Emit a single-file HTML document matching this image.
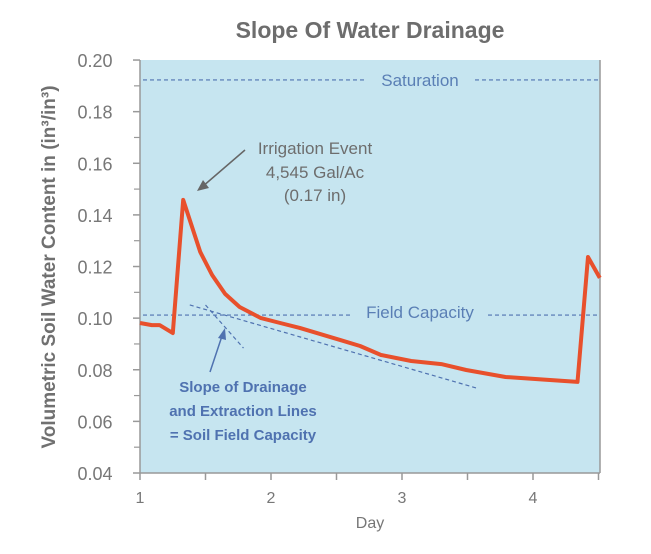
<!DOCTYPE html>
<html><head><meta charset="utf-8"><style>
body{margin:0;background:#fff;width:651px;height:549px;overflow:hidden;font-family:"Liberation Sans",sans-serif}
</style></head><body>
<svg id="chart" width="651" height="549">
<text x="370" y="38" text-anchor="middle" font-size="23" font-weight="bold" fill="#6d6d6d">Slope Of Water Drainage</text>
<rect x="140" y="60" width="460" height="413" fill="#c6e5f0"/>
<g id="axes"></g>
<g id="marks"></g>
<text transform="translate(55,267) rotate(-90)" text-anchor="middle" font-size="19" font-weight="bold" fill="#707070">Volumetric Soil Water Content in (in³/in³)</text>
<text x="370" y="528" text-anchor="middle" font-size="16" fill="#777">Day</text>
<text x="420" y="86" text-anchor="middle" font-size="17" fill="#5a7fb5">Saturation</text>
<text x="420" y="318" text-anchor="middle" font-size="17" fill="#5a7fb5">Field Capacity</text>
<g font-size="17" fill="#6d6d6d" text-anchor="middle">
<text x="315" y="154">Irrigation Event</text><text x="315" y="178">4,545 Gal/Ac</text><text x="315" y="201">(0.17 in)</text></g>
<line x1="245" y1="150" x2="202" y2="187" stroke="#666" stroke-width="1.5"/>
<polygon points="197,191 203,180 209,188" fill="#666"/>
<g font-size="15" font-weight="bold" fill="#4f72b0" text-anchor="middle">
<text x="243" y="392">Slope of Drainage</text><text x="243" y="416">and Extraction Lines</text><text x="243" y="440">= Soil Field Capacity</text></g>
<line x1="210" y1="372" x2="222" y2="336" stroke="#4f72b0" stroke-width="1.5"/>
<polygon points="225,328 218,338 226,340" fill="#4f72b0"/>
</svg>
<script>
const days=[1,1.09,1.15,1.25,1.33,1.46,1.55,1.65,1.76,1.92,2.07,2.22,2.53,2.68,2.84,3.07,3.3,3.49,3.79,4.34,4.42,4.51];
const moisture=[0.0981,0.0973,0.0973,0.0942,0.1458,0.1256,0.1167,0.1094,0.1043,0.1001,0.0981,0.0962,0.0915,0.0892,0.0857,0.0834,0.0822,0.0799,0.0772,0.0753,0.1237,0.1156];
const yTicks=[0.04,0.06,0.08,0.10,0.12,0.14,0.16,0.18,0.20];
const xTicks=[1,2,3,4];
const saturation=0.1923, fieldCapacity=0.1012;
const extractionLine=[[1.38,0.1051],[3.57,0.0729]];
const drainageLine=[[1.5,0.1051],[1.79,0.0884]];
const X=d=>140+(d-1)*131, Y=v=>473-(v-0.04)*2581;
const NS="http://www.w3.org/2000/svg";
function mk(tag,attrs,parent){const e=document.createElementNS(NS,tag);for(const k in attrs)e.setAttribute(k,attrs[k]);parent.appendChild(e);return e;}
const ax=document.getElementById('axes'), mk2=document.getElementById('marks');
let e=mk('line',{x1:140,y1:60,x2:140,y2:473,stroke:'#999','stroke-width':1.5},ax);

e=mk('line',{x1:140,y1:473,x2:600,y2:473,stroke:'#999','stroke-width':1.5},ax);

e=mk('line',{x1:600,y1:60,x2:600,y2:473,stroke:'#999','stroke-width':1.5},ax);

yTicks.forEach((v,i)=>{
  const t=mk('text',{x:95,y:Y(v)+7,'text-anchor':'middle','font-size':18,fill:'#777'},ax);t.textContent=v.toFixed(2);
  
  const l=mk('line',{x1:133,y1:Y(v),x2:140,y2:Y(v),stroke:'#999','stroke-width':1.5},ax);
  
  if(i<yTicks.length-1){const m=mk('line',{x1:134,y1:Y(v+0.01),x2:140,y2:Y(v+0.01),stroke:'#999','stroke-width':1.2},ax);
  }
});
[1,1.5,2,2.5,3,3.5,4,4.5].forEach(d=>{const l=mk('line',{x1:X(d),y1:473,x2:X(d),y2:480,stroke:'#999','stroke-width':1.5},ax);
});
xTicks.forEach(d=>{const t=mk('text',{x:X(d),y:503,'text-anchor':'middle','font-size':16,fill:'#777'},ax);t.textContent=d;
});
e=mk('line',{x1:143,y1:Y(saturation),x2:365,y2:Y(saturation),stroke:'#4f72b0','stroke-width':1.2,'stroke-dasharray':'4,3'},mk2);

e=mk('line',{x1:475,y1:Y(saturation),x2:600,y2:Y(saturation),stroke:'#4f72b0','stroke-width':1.2,'stroke-dasharray':'4,3'},mk2);

e=mk('line',{x1:143,y1:Y(fieldCapacity),x2:350,y2:Y(fieldCapacity),stroke:'#4f72b0','stroke-width':1.2,'stroke-dasharray':'4,3'},mk2);

e=mk('line',{x1:488,y1:Y(fieldCapacity),x2:600,y2:Y(fieldCapacity),stroke:'#4f72b0','stroke-width':1.2,'stroke-dasharray':'4,3'},mk2);

e=mk('line',{x1:X(extractionLine[0][0]),y1:Y(extractionLine[0][1]),x2:X(extractionLine[1][0]),y2:Y(extractionLine[1][1]),stroke:'#4f72b0','stroke-width':1.2,'stroke-dasharray':'4,3'},mk2);

e=mk('line',{x1:X(drainageLine[0][0]),y1:Y(drainageLine[0][1]),x2:X(drainageLine[1][0]),y2:Y(drainageLine[1][1]),stroke:'#4f72b0','stroke-width':1.2,'stroke-dasharray':'4,3'},mk2);

const pts=days.map((d,i)=>X(d).toFixed(1)+','+Y(moisture[i]).toFixed(1)).join(' ');
e=mk('polyline',{points:pts,fill:'none',stroke:'#e8502c','stroke-width':4,'stroke-linejoin':'round'},mk2);

</script>
</body></html>
